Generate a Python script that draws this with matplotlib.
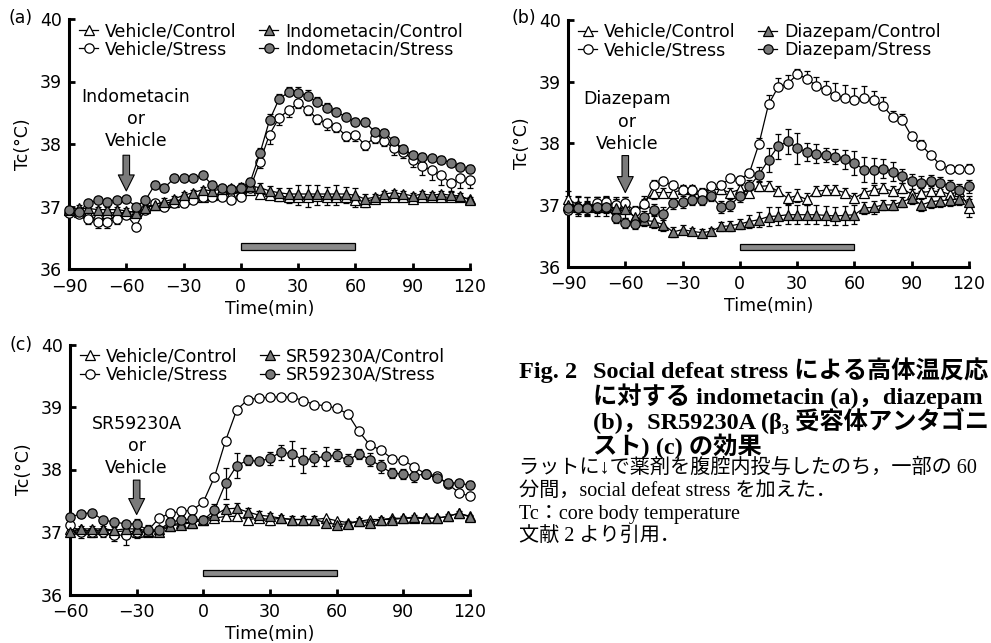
import matplotlib
matplotlib.use("Agg")
import matplotlib.pyplot as plt
from matplotlib.patches import Rectangle

# ---------------- data ----------------
time_ab = [-90, -85, -80, -75, -70, -65, -60, -55, -50, -45, -40, -35, -30, -25, -20,
           -15, -10, -5, 0, 5, 10, 15, 20, 25, 30, 35, 40, 45, 50, 55, 60, 65, 70, 75,
           80, 85, 90, 95, 100, 105, 110, 115, 120]
time_c = [-60, -55, -50, -45, -40, -35, -30, -25, -20, -15, -10, -5, 0, 5, 10, 15, 20,
          25, 30, 35, 40, 45, 50, 55, 60, 65, 70, 75, 80, 85, 90, 95, 100, 105, 110, 115, 120]

xticks_ab = [-90, -60, -30, 0, 30, 60, 90, 120]
xticks_c = [-60, -30, 0, 30, 60, 90, 120]
yticks = [36, 37, 38, 39, 40]

# Panel (a) Indometacin
a_vc = [36.95, 36.92, 36.9, 36.88, 36.9, 36.9, 36.9, 36.93, 37.0, 37.03, 37.05, 37.08, 37.12, 37.15, 37.15,
        37.18, 37.2, 37.2, 37.25, 37.27, 37.2, 37.18, 37.17, 37.15, 37.15, 37.15, 37.17, 37.15, 37.15, 37.15,
        37.1, 37.08, 37.12, 37.15, 37.15, 37.15, 37.12, 37.15, 37.15, 37.15, 37.15, 37.15, 37.12]
a_ic = [36.95, 36.97, 36.97, 36.95, 36.95, 36.95, 36.93, 36.9, 36.97, 37.03, 37.08, 37.12, 37.18, 37.22, 37.27,
        37.25, 37.28, 37.3, 37.32, 37.33, 37.3, 37.25, 37.22, 37.2, 37.2, 37.2, 37.2, 37.2, 37.2, 37.2,
        37.18, 37.12, 37.15, 37.2, 37.22, 37.2, 37.17, 37.2, 37.18, 37.2, 37.18, 37.17, 37.1]
a_vs = [36.9, 36.88, 36.8, 36.75, 36.75, 36.8, 36.87, 36.68, 36.95, 37.05, 37.0, 37.05, 37.05, 37.1, 37.15,
        37.15, 37.15, 37.1, 37.15, 37.3, 37.72, 38.15, 38.42, 38.54, 38.65, 38.55, 38.4, 38.33, 38.28, 38.13,
        38.15, 37.98, 38.1, 38.05, 37.93, 37.87, 37.75, 37.65, 37.58, 37.5, 37.37, 37.45, 37.42]
a_is = [36.95, 36.92, 37.05, 37.1, 37.08, 37.1, 37.12, 37.0, 37.1, 37.35, 37.3, 37.45, 37.45, 37.45, 37.5,
        37.35, 37.3, 37.28, 37.3, 37.4, 37.85, 38.38, 38.72, 38.83, 38.82, 38.77, 38.67, 38.58, 38.52, 38.43,
        38.35, 38.35, 38.2, 38.18, 38.05, 37.92, 37.82, 37.8, 37.77, 37.75, 37.7, 37.64, 37.6]
a_vc_err = [0.05, 0.05, 0.08, 0.08, 0.08, 0.06, 0.06, 0.08, 0.08, 0.06, 0.05, 0.05, 0.05, 0.05, 0.05,
            0.05, 0.05, 0.05, 0.05, 0.05, 0.06, 0.06, 0.08, 0.1, 0.12, 0.15, 0.15, 0.12, 0.12, 0.1,
            0.1, 0.08, 0.06, 0.06, 0.05, 0.05, 0.05, 0.05, 0.05, 0.05, 0.05, 0.05, 0.08]
a_ic_err = [0.05, 0.05, 0.05, 0.05, 0.05, 0.05, 0.05, 0.05, 0.05, 0.05, 0.05, 0.05, 0.05, 0.05, 0.05,
            0.05, 0.05, 0.05, 0.05, 0.08, 0.08, 0.08, 0.08, 0.1, 0.15, 0.15, 0.15, 0.12, 0.15, 0.12,
            0.12, 0.08, 0.05, 0.05, 0.05, 0.05, 0.05, 0.05, 0.05, 0.05, 0.05, 0.05, 0.05]
a_vs_err = [0.05, 0.05, 0.08, 0.1, 0.1, 0.08, 0.06, 0.06, 0.06, 0.08, 0.06, 0.06, 0.05, 0.05, 0.05,
            0.05, 0.05, 0.05, 0.05, 0.06, 0.1, 0.15, 0.12, 0.1, 0.08, 0.08, 0.08, 0.1, 0.08, 0.08,
            0.1, 0.08, 0.08, 0.08, 0.1, 0.1, 0.12, 0.15, 0.15, 0.15, 0.12, 0.15, 0.12]
a_is_err = [0.05, 0.05, 0.05, 0.05, 0.05, 0.05, 0.05, 0.05, 0.05, 0.06, 0.06, 0.06, 0.06, 0.06, 0.06,
            0.06, 0.05, 0.05, 0.05, 0.06, 0.08, 0.1, 0.08, 0.08, 0.1, 0.1, 0.08, 0.08, 0.06, 0.06,
            0.06, 0.06, 0.06, 0.06, 0.06, 0.06, 0.06, 0.06, 0.06, 0.06, 0.06, 0.06, 0.06]

# Panel (b) Diazepam
b_vc = [37.1, 37.0, 36.98, 37.0, 37.0, 37.0, 37.0, 36.8, 37.05, 37.2, 37.2, 37.2, 37.25, 37.25, 37.2,
        37.25, 37.25, 37.2, 37.25, 37.2, 37.3, 37.31, 37.22, 37.11, 37.15, 37.09, 37.22, 37.24, 37.24, 37.2,
        37.11, 37.2, 37.24, 37.27, 37.22, 37.27, 37.17, 37.2, 37.22, 37.22, 37.17, 37.22, 36.95]
b_dc = [37.0, 36.97, 36.97, 36.97, 36.97, 36.95, 36.93, 36.8, 36.75, 36.73, 36.68, 36.56, 36.6, 36.57, 36.55,
        36.57, 36.65, 36.66, 36.69, 36.73, 36.76, 36.81, 36.82, 36.84, 36.84, 36.84, 36.84, 36.83, 36.82, 36.83,
        36.84, 36.95, 36.96, 37.0, 37.0, 37.05, 37.11, 37.0, 37.05, 37.07, 37.08, 37.1, 37.05]
b_vs = [36.92, 36.95, 36.97, 37.03, 37.05, 37.0, 37.03, 36.9, 37.02, 37.32, 37.38, 37.32, 37.24, 37.24, 37.2,
        37.3, 37.32, 37.43, 37.41, 37.52, 37.99, 38.63, 38.91, 38.96, 39.12, 39.05, 38.93, 38.86, 38.77, 38.74,
        38.7, 38.73, 38.7, 38.6, 38.43, 38.38, 38.11, 37.97, 37.81, 37.65, 37.59, 37.59, 37.58]
b_ds = [36.95, 36.95, 36.95, 36.97, 36.97, 36.78, 36.7, 36.69, 36.8, 36.92, 36.86, 37.03, 37.05, 37.08, 37.08,
        37.14, 36.97, 37.0, 37.14, 37.3, 37.49, 37.73, 37.95, 38.03, 37.92, 37.86, 37.83, 37.81, 37.78, 37.74,
        37.68, 37.57, 37.56, 37.59, 37.54, 37.47, 37.38, 37.35, 37.38, 37.36, 37.3, 37.24, 37.3]
b_vc_err = [0.12, 0.15, 0.15, 0.12, 0.12, 0.12, 0.12, 0.1, 0.1, 0.1, 0.08, 0.08, 0.08, 0.08, 0.08,
            0.08, 0.08, 0.08, 0.08, 0.08, 0.08, 0.08, 0.08, 0.1, 0.1, 0.1, 0.08, 0.08, 0.08, 0.08,
            0.08, 0.08, 0.08, 0.08, 0.08, 0.08, 0.08, 0.08, 0.08, 0.08, 0.08, 0.08, 0.15]
b_dc_err = [0.15, 0.15, 0.15, 0.15, 0.15, 0.15, 0.15, 0.1, 0.1, 0.1, 0.1, 0.08, 0.08, 0.06, 0.06,
            0.06, 0.08, 0.08, 0.08, 0.1, 0.12, 0.15, 0.15, 0.15, 0.15, 0.15, 0.15, 0.15, 0.15, 0.15,
            0.15, 0.1, 0.1, 0.08, 0.08, 0.08, 0.1, 0.1, 0.1, 0.1, 0.1, 0.1, 0.1]
b_vs_err = [0.08, 0.1, 0.1, 0.1, 0.1, 0.1, 0.1, 0.08, 0.08, 0.08, 0.08, 0.06, 0.06, 0.06, 0.06,
            0.06, 0.06, 0.06, 0.06, 0.06, 0.1, 0.15, 0.15, 0.15, 0.08, 0.12, 0.15, 0.15, 0.2, 0.2,
            0.2, 0.2, 0.15, 0.15, 0.1, 0.1, 0.08, 0.08, 0.05, 0.05, 0.05, 0.05, 0.08]
b_ds_err = [0.1, 0.1, 0.1, 0.1, 0.1, 0.08, 0.08, 0.08, 0.1, 0.1, 0.1, 0.1, 0.1, 0.08, 0.08,
            0.08, 0.1, 0.1, 0.1, 0.1, 0.12, 0.2, 0.2, 0.2, 0.25, 0.15, 0.15, 0.12, 0.12, 0.15,
            0.2, 0.2, 0.2, 0.15, 0.15, 0.12, 0.12, 0.12, 0.1, 0.1, 0.1, 0.1, 0.1]

# Panel (c) SR59230A
c_vc = [37.05, 37.05, 37.0, 37.05, 37.0, 37.02, 37.0, 37.0, 37.05, 37.1, 37.15, 37.15, 37.2, 37.22, 37.25,
        37.25, 37.2, 37.22, 37.2, 37.22, 37.2, 37.2, 37.2, 37.22, 37.18, 37.15, 37.17, 37.2, 37.2, 37.22,
        37.22, 37.22, 37.22, 37.22, 37.25, 37.3, 37.25]
c_sc = [37.0, 37.05, 37.05, 37.05, 37.03, 37.05, 37.05, 37.02, 37.0, 37.1, 37.12, 37.15, 37.2, 37.27, 37.37,
        37.38, 37.32, 37.27, 37.25, 37.22, 37.2, 37.2, 37.2, 37.15, 37.12, 37.13, 37.17, 37.15, 37.2, 37.2,
        37.22, 37.24, 37.22, 37.22, 37.25, 37.3, 37.24]
c_vs = [37.11, 37.0, 37.0, 37.0, 36.95, 36.95, 37.0, 37.02, 37.22, 37.3, 37.33, 37.35, 37.48, 37.88, 38.46,
        38.95, 39.12, 39.14, 39.16, 39.16, 39.16, 39.1, 39.04, 39.02, 38.98, 38.89, 38.61, 38.39, 38.31, 38.17,
        38.15, 38.04, 37.93, 37.9, 37.77, 37.63, 37.57]
c_ss = [37.24, 37.29, 37.31, 37.19, 37.16, 37.13, 37.13, 37.03, 37.03, 37.16, 37.19, 37.21, 37.19, 37.35, 37.78,
        38.06, 38.15, 38.13, 38.18, 38.28, 38.25, 38.15, 38.18, 38.21, 38.23, 38.15, 38.25, 38.16, 38.05, 37.94,
        37.93, 37.9, 37.93, 37.86, 37.79, 37.78, 37.75]
c_vc_err = [0.05, 0.06, 0.06, 0.06, 0.06, 0.06, 0.06, 0.05, 0.05, 0.05, 0.05, 0.05, 0.05, 0.05, 0.05,
            0.06, 0.06, 0.06, 0.08, 0.06, 0.05, 0.05, 0.05, 0.05, 0.05, 0.05, 0.05, 0.05, 0.05, 0.04,
            0.04, 0.04, 0.04, 0.04, 0.04, 0.04, 0.04]
c_sc_err = [0.05, 0.05, 0.05, 0.05, 0.05, 0.05, 0.05, 0.05, 0.05, 0.05, 0.05, 0.05, 0.06, 0.06, 0.08,
            0.08, 0.06, 0.06, 0.06, 0.06, 0.06, 0.06, 0.06, 0.06, 0.05, 0.05, 0.05, 0.05, 0.04, 0.04,
            0.04, 0.04, 0.04, 0.04, 0.04, 0.04, 0.04]
c_vs_err = [0.06, 0.1, 0.08, 0.08, 0.1, 0.15, 0.1, 0.08, 0.05, 0.05, 0.05, 0.05, 0.04, 0.04, 0.04,
            0.04, 0.03, 0.03, 0.03, 0.03, 0.03, 0.03, 0.03, 0.03, 0.05, 0.06, 0.04, 0.04, 0.04, 0.04,
            0.04, 0.04, 0.04, 0.04, 0.04, 0.04, 0.04]
c_ss_err = [0.05, 0.05, 0.05, 0.05, 0.05, 0.05, 0.08, 0.08, 0.06, 0.06, 0.06, 0.05, 0.05, 0.1, 0.25,
            0.2, 0.08, 0.06, 0.1, 0.12, 0.2, 0.2, 0.12, 0.15, 0.1, 0.1, 0.08, 0.1, 0.1, 0.08,
            0.08, 0.1, 0.06, 0.06, 0.06, 0.06, 0.06]

stress_window = [0, 60]

labels_a = ["Vehicle/Control", "Vehicle/Stress", "Indometacin/Control", "Indometacin/Stress"]
labels_b = ["Vehicle/Control", "Vehicle/Stress", "Diazepam/Control", "Diazepam/Stress"]
labels_c = ["Vehicle/Control", "Vehicle/Stress", "SR59230A/Control", "SR59230A/Stress"]

drug_a = "Indometacin\nor\nVehicle"
drug_b = "Diazepam\nor\nVehicle"
drug_c = "SR59230A\nor\nVehicle"

caption_fig = "Fig. 2"
caption_title = ["Social defeat stress による高体温反応",
                 "に対する indometacin (a)，diazepam",
                 "(b)，SR59230A (β₃ 受容体アンタゴニ",
                 "スト) (c) の効果"]
caption_body = ["ラットに↓で薬剤を腹腔内投与したのち，一部の 60",
                "分間，social defeat stress を加えた．",
                "Tc：core body temperature",
                "文献 2 より引用．"]

# ---------------- figure ----------------
plt.rcParams['font.family'] = ['DejaVu Sans']
plt.rcParams['axes.unicode_minus'] = True

W, H = 991, 643
fig = plt.figure(figsize=(W / 100, H / 100), dpi=100)

GRAY = '#7a7a7a'
FS = 12.5


def px_rect(left, right, y36, y40):
    return [left / W, 1 - y36 / H, (right - left) / W, (y36 - y40) / H]


def draw_panel(ax, t, series, labels, xticks, xlim, bar_y, arrow_t, arrow_top, arrow_tip,
               drug_text, text_t, text_T):
    handles = []
    for (vals, err, mode, marker, fc), lab in zip(series, labels):
        lo = [e if mode in ('down', 'both') else 0 for e in err]
        hi = [e if mode in ('up', 'both') else 0 for e in err]
        ax.errorbar(t, vals, yerr=[lo, hi], fmt='none', ecolor='black', elinewidth=0.9,
                    capsize=2.2, capthick=0.9, zorder=2, clip_on=False)
        h, = ax.plot(t, vals, color='black', lw=0.9, marker=marker, ms=6.7, mfc=fc,
                     mec='black', mew=0.9, label=lab, zorder=3, clip_on=False)
        handles.append(h)
    ax.set_xlim(*xlim)
    ax.set_ylim(36, 40)
    ax.set_xticks(xticks)
    ax.set_yticks(yticks)
    for s in ('top', 'right'):
        ax.spines[s].set_visible(False)
    for s in ('left', 'bottom'):
        ax.spines[s].set_linewidth(2.2)
    ax.tick_params(direction='in', length=4, width=2, labelsize=FS)
    ax.tick_params(axis='y', pad=5)
    ax.tick_params(axis='x', pad=6.2)
    ax.set_xlabel('Time(min)', fontsize=FS, labelpad=3)
    ax.set_ylabel('Tc(°C)', fontsize=FS, labelpad=6)
    ax.add_patch(Rectangle((stress_window[0], bar_y - 0.05), stress_window[1] - stress_window[0], 0.1,
                           fc='#8a8a8a', ec='black', lw=0.9, zorder=2))
    ax.annotate('', xy=(arrow_t, arrow_tip), xytext=(arrow_t, arrow_top),
                arrowprops=dict(arrowstyle='simple,head_length=0.85,head_width=0.85,tail_width=0.35',
                                fc=GRAY, ec='black', lw=0.8, mutation_scale=13.5, shrinkA=0, shrinkB=0))
    ax.text(text_t, text_T, drug_text, ha='center', va='center', fontsize=FS, linespacing=1.3)
    ax.legend(handles=handles, loc='upper left', bbox_to_anchor=(0.025, 0.988), ncol=2, frameon=False,
              handlelength=1.1, handletextpad=0.4, columnspacing=1.3, labelspacing=0.02,
              fontsize=12.5, borderaxespad=0, borderpad=0)


ax_a = fig.add_axes(px_rect(69, 470, 269, 19))
draw_panel(ax_a, time_ab,
           [(a_vc, a_vc_err, 'down', '^', 'white'), (a_vs, a_vs_err, 'down', 'o', 'white'),
            (a_ic, a_ic_err, 'up', '^', GRAY), (a_is, a_is_err, 'up', 'o', GRAY)],
           labels_a, xticks_ab, (-90, 120), 36.36, -60, 37.82, 37.25, drug_a, -55, 38.4)

ax_b = fig.add_axes(px_rect(568, 969, 266.5, 20))
draw_panel(ax_b, time_ab,
           [(b_vc, b_vc_err, 'both', '^', 'white'), (b_vs, b_vs_err, 'up', 'o', 'white'),
            (b_dc, b_dc_err, 'both', '^', GRAY), (b_ds, b_ds_err, 'both', 'o', GRAY)],
           labels_b, xticks_ab, (-90, 120), 36.32, -60, 37.8, 37.2, drug_b, -59, 38.35)

ax_c = fig.add_axes(px_rect(70, 470, 594.5, 344.5))
draw_panel(ax_c, time_c,
           [(c_vc, c_vc_err, 'down', '^', 'white'), (c_vs, c_vs_err, 'down', 'o', 'white'),
            (c_sc, c_sc_err, 'up', '^', GRAY), (c_ss, c_ss_err, 'both', 'o', GRAY)],
           labels_c, xticks_c, (-60, 120), 36.34, -30, 37.83, 37.28, drug_c, -30, 38.38)

# panel letters
fig.text(33 / W, 1 - 18 / H, '(a)', ha='right', va='center', fontsize=FS)
fig.text(536 / W, 1 - 18 / H, '(b)', ha='right', va='center', fontsize=FS)
fig.text(33 / W, 1 - 345 / H, '(c)', ha='right', va='center', fontsize=FS)

# caption
serif = ['Liberation Serif', 'Noto Sans CJK JP', 'DejaVu Serif']
fig.text(519 / W, 1 - 372 / H, caption_fig, ha='left', va='center', fontsize=17.5, fontweight='bold',
         family=serif)
for i, line in enumerate(caption_title):
    fig.text(593 / W, 1 - (372 + 24.6 * i) / H, line, ha='left', va='center', fontsize=17.5,
             fontweight='bold', family=serif)
for i, line in enumerate(caption_body):
    fig.text(519 / W, 1 - (468 + 23.3 * i) / H, line, ha='left', va='center', fontsize=14.5,
             family=serif)

fig.savefig('out.png', dpi=100)
